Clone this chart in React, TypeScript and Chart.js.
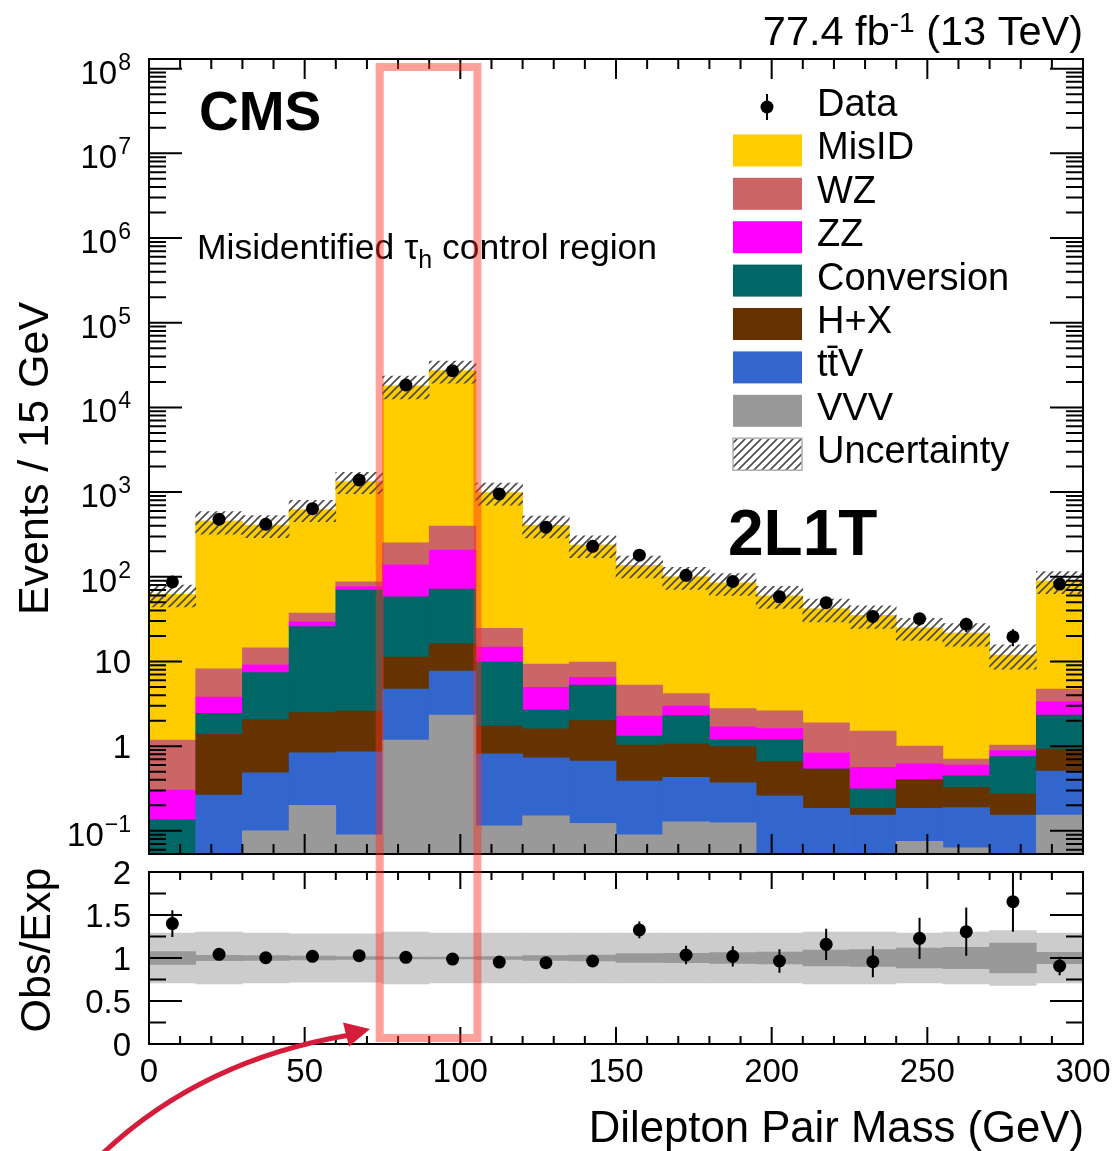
import React, { useEffect, useRef } from 'react';
import { Chart, registerables } from 'chart.js';

Chart.register(...registerables);

const WIDTH = 1115;
const HEIGHT = 1151;
const FONT = "'Liberation Sans', Arial, Helvetica, sans-serif";

// 20 bins of 15 GeV in dilepton pair mass
const BIN_CENTERS = [7.5, 22.5, 37.5, 52.5, 67.5, 82.5, 97.5, 112.5, 127.5, 142.5, 157.5, 172.5, 187.5, 202.5, 217.5, 232.5, 247.5, 262.5, 277.5, 292.5];

// Observed events per bin
const DATA = [87, 478, 417, 637, 1390, 18400, 27100, 949, 385, 229, 180, 104, 88, 58, 49.5, 34, 32, 27.5, 19.6, 82];

// Expected contributions per bin (stacked bottom to top: VVV, ttV, H+X, Conversion, ZZ, WZ, MisID)
const VVV = [0, 0, 0.1, 0.2, 0.09, 1.18, 2.33, 0.115, 0.15, 0.122, 0.09, 0.128, 0.124, 0, 0, 0, 0.075, 0.063, 0, 0.154];
const TTV = [0, 0.265, 0.386, 0.636, 0.77, 3.55, 5.37, 0.695, 0.576, 0.546, 0.298, 0.302, 0.246, 0.26, 0.185, 0.154, 0.11, 0.125, 0.154, 0.355];
const HX = [0, 1.115, 1.554, 1.652, 1.74, 6.57, 8.5, 0.92, 0.874, 1.332, 0.642, 0.63, 0.616, 0.396, 0.353, 0.031, 0.215, 0.136, 0.119, 0.418];
const CONVERSION = [0.135, 1.06, 5.34, 23.3, 67.2, 46.5, 55.6, 8.13, 1.07, 3.28, 0.29, 1.23, 0.214, 0.544, 0, 0.128, 0, 0.121, 0.479, 1.403];
const ZZ = [0.169, 1.37, 1.72, 3.5, 6.6, 80.2, 135.2, 4.94, 2.29, 1.22, 0.95, 0.69, 0.49, 0.41, 0.294, 0.251, 0.217, 0.155, 0.133, 1.02];
const WZ = [0.876, 4.39, 5.4, 8.1, 10.5, 113, 191, 9.9, 4.37, 3.36, 3.01, 1.19, 1.08, 1.01, 1.048, 0.946, 0.383, 0.106, 0.145, 1.38];
const MISID = [60.8, 446, 394, 586, 1248, 17750, 26900, 965, 395, 227, 131, 96, 82, 57, 40, 33.5, 24, 20.9, 10.9, 84.3];

// Relative total uncertainty on the expectation (hatched band / light ratio band)
const REL_UNC = [0.29, 0.3, 0.29, 0.28, 0.28, 0.3, 0.29, 0.29, 0.29, 0.29, 0.29, 0.29, 0.29, 0.29, 0.3, 0.3, 0.29, 0.3, 0.32, 0.29];
// Relative statistical uncertainty on the expectation (dark ratio band)
const MC_STAT = [0.074, 0.031, 0.027, 0.023, 0.017, 0.01, 0.01, 0.017, 0.029, 0.035, 0.05, 0.054, 0.064, 0.068, 0.093, 0.097, 0.116, 0.124, 0.174, 0.066];

// Observed / expected and its uncertainty
const RATIO = [1.4, 1.043, 1.003, 1.02, 1.027, 1.008, 0.988, 0.953, 0.945, 0.965, 1.326, 1.035, 1.02, 0.965, 1.159, 0.957, 1.229, 1.306, 1.655, 0.907];
const RATIO_ERR = [0.155, 0.048, 0.05, 0.041, 0.028, 0.0075, 0.006, 0.031, 0.048, 0.063, 0.097, 0.107, 0.118, 0.137, 0.182, 0.18, 0.24, 0.28, 0.35, 0.107];

// Axis settings
const X_MIN = 0;
const X_MAX = 300;
const X_MAJOR = 50;
const X_MINOR = 10;
const Y_MIN = 0.0533;
const Y_MAX = 1.3e8;
const Y_DECADES = [-1, 0, 1, 2, 3, 4, 5, 6, 7, 8];
const RATIO_MIN = 0;
const RATIO_MAX = 2;
const RATIO_LABELS = ['0', '0.5', '1', '1.5', '2'];
const X_LABELS = ['0', '50', '100', '150', '200', '250', '300'];
const FLOOR = 1e-3;

const STACK = [
  { label: 'VVV', values: VVV, color: '#999999' },
  { label: 'tt\u0304V', values: TTV, color: '#3366CC' },
  { label: 'H+X', values: HX, color: '#663300' },
  { label: 'Conversion', values: CONVERSION, color: '#006666' },
  { label: 'ZZ', values: ZZ, color: '#FF00FF' },
  { label: 'WZ', values: WZ, color: '#CC6666' },
  { label: 'MisID', values: MISID, color: '#FFCC00' },
];

const TOTAL = BIN_CENTERS.map((_, i) => STACK.reduce((s, c) => s + c.values[i], 0));

function makeHatch(): CanvasPattern {
  const s = 8;
  const c = document.createElement('canvas');
  c.width = s;
  c.height = s;
  const g = c.getContext('2d') as CanvasRenderingContext2D;
  g.strokeStyle = '#4a4a4a';
  g.lineWidth = 1.6;
  g.beginPath();
  g.moveTo(0, s);
  g.lineTo(s, 0);
  g.moveTo(-s / 2, s / 2);
  g.lineTo(s / 2, -s / 2);
  g.moveTo(s / 2, s * 1.5);
  g.lineTo(s * 1.5, s / 2);
  g.stroke();
  return g.createPattern(c, 'repeat') as CanvasPattern;
}

function drawXTicks(ctx: CanvasRenderingContext2D, x: any, a: any, majorLen: number, minorLen: number) {
  for (let v = X_MIN; v <= X_MAX; v += X_MINOR) {
    const px = x.getPixelForValue(v);
    const len = v % X_MAJOR === 0 ? majorLen : minorLen;
    ctx.moveTo(px, a.bottom);
    ctx.lineTo(px, a.bottom - len);
    ctx.moveTo(px, a.top);
    ctx.lineTo(px, a.top + len);
  }
}

function App() {
  const mainRef = useRef<HTMLCanvasElement>(null);
  const ratioRef = useRef<HTMLCanvasElement>(null);

  useEffect(() => {
    const hatch = makeHatch();

    // cumulative floating bars for the stacked histogram
    const cum = BIN_CENTERS.map(() => 0);
    const stackSets = STACK.map((s) => ({
      type: 'bar' as const,
      label: s.label,
      data: BIN_CENTERS.map((xc, i) => {
        const lo = cum[i];
        const hi = lo + s.values[i];
        cum[i] = hi;
        return { x: xc, y: [Math.max(lo, FLOOR), Math.max(hi, FLOOR)] };
      }),
      backgroundColor: s.color,
      borderWidth: 0,
      grouped: false,
      barPercentage: 1,
      categoryPercentage: 1,
      clip: 0,
      order: 2,
    }));

    const mainDecor = {
      id: 'mainDecor',
      afterDatasetsDraw(chart: any) {
        const { ctx, chartArea: a } = chart;
        const x = chart.scales.x;
        const y = chart.scales.y;
        ctx.save();
        ctx.strokeStyle = '#000';
        ctx.lineWidth = 2;

        // statistical error bars on data
        ctx.beginPath();
        BIN_CENTERS.forEach((c, i) => {
          const e = Math.sqrt(DATA[i]);
          const px = x.getPixelForValue(c);
          ctx.moveTo(px, y.getPixelForValue(DATA[i] - e));
          ctx.lineTo(px, y.getPixelForValue(DATA[i] + e));
        });
        ctx.stroke();

        // inward ticks on all four sides
        ctx.beginPath();
        drawXTicks(ctx, x, a, 20, 10);
        for (let e = -2; e <= 8; e++) {
          for (let m = 1; m <= 9; m++) {
            const v = m * Math.pow(10, e);
            if (v < Y_MIN || v > Y_MAX) continue;
            const py = y.getPixelForValue(v);
            const len = m === 1 ? 33 : 17;
            ctx.moveTo(a.left, py);
            ctx.lineTo(a.left + len, py);
            ctx.moveTo(a.right, py);
            ctx.lineTo(a.right - len, py);
          }
        }
        ctx.stroke();
        ctx.strokeRect(a.left, a.top, a.right - a.left, a.bottom - a.top);

        // y tick labels with exponents
        ctx.fillStyle = '#000';
        ctx.textBaseline = 'alphabetic';
        ctx.textAlign = 'right';
        const labelRight = a.left - 18;
        Y_DECADES.forEach((d) => {
          const py = y.getPixelForValue(Math.pow(10, d));
          if (d === 0 || d === 1) {
            ctx.font = `33px ${FONT}`;
            ctx.fillText(d === 0 ? '1' : '10', labelRight, py + 11.5);
          } else {
            const exp = d < 0 ? '\u2212' + String(-d) : String(d);
            ctx.font = `23px ${FONT}`;
            const w = ctx.measureText(exp).width;
            ctx.fillText(exp, labelRight, py + 1);
            ctx.font = `33px ${FONT}`;
            ctx.fillText('10', labelRight - w - 1, py + 15);
          }
        });

        // y axis title
        ctx.save();
        ctx.translate(48, (a.top + a.bottom) / 2 + 2);
        ctx.rotate(-Math.PI / 2);
        ctx.textAlign = 'center';
        ctx.font = `43px ${FONT}`;
        ctx.fillText('Events / 15 GeV', 0, 0);
        ctx.restore();

        // luminosity label
        ctx.textAlign = 'left';
        ctx.font = `41.5px ${FONT}`;
        const p3 = ' (13 TeV)';
        const p1 = '77.4 fb';
        const w3 = ctx.measureText(p3).width;
        const w1 = ctx.measureText(p1).width;
        ctx.font = `28px ${FONT}`;
        const sup = '-1';
        const ws = ctx.measureText(sup).width;
        const x3 = a.right - w3;
        ctx.fillText(sup, x3 - ws, 32);
        ctx.font = `41.5px ${FONT}`;
        ctx.fillText(p3, x3, 45);
        ctx.fillText(p1, x3 - ws - w1, 45);

        // CMS and region labels
        ctx.font = `bold 55px ${FONT}`;
        ctx.fillText('CMS', 199, 130);
        ctx.font = `bold 64px ${FONT}`;
        ctx.fillText('2L1T', 728, 555);
        ctx.font = `35.5px ${FONT}`;
        const t1 = 'Misidentified \u03C4';
        ctx.fillText(t1, 197, 259);
        let tx = 197 + ctx.measureText(t1).width;
        ctx.font = `25px ${FONT}`;
        ctx.fillText('h', tx, 268);
        tx += ctx.measureText('h').width;
        ctx.font = `35.5px ${FONT}`;
        ctx.fillText(' control region', tx, 259);

        // legend
        const rows = [
          { label: 'Data', kind: 'data', color: '#000' },
          ...STACK.slice().reverse().map((s) => ({ label: s.label, kind: 'box', color: s.color })),
          { label: 'Uncertainty', kind: 'hatch', color: '' },
        ];
        rows.forEach((r, i) => {
          const base = 116 + i * 43.4;
          if (r.kind === 'data') {
            ctx.beginPath();
            ctx.moveTo(767, base - 22);
            ctx.lineTo(767, base + 4);
            ctx.stroke();
            ctx.beginPath();
            ctx.arc(767, base - 9, 6.5, 0, Math.PI * 2);
            ctx.fill();
          } else if (r.kind === 'box') {
            ctx.fillStyle = r.color;
            ctx.fillRect(733, base - 25, 69, 32);
          } else {
            ctx.fillStyle = hatch;
            ctx.fillRect(733, base - 25, 69, 32);
            ctx.save();
            ctx.strokeStyle = '#b0b0b0';
            ctx.lineWidth = 1.5;
            ctx.strokeRect(733, base - 25, 69, 32);
            ctx.restore();
          }
          ctx.fillStyle = '#000';
          ctx.font = `38px ${FONT}`;
          ctx.fillText(r.label, 817, base);
        });

        ctx.restore();
      },
    };

    const main = new Chart(mainRef.current as HTMLCanvasElement, {
      type: 'bar',
      data: {
        datasets: [
          {
            type: 'line',
            label: 'Data',
            data: BIN_CENTERS.map((xc, i) => ({ x: xc, y: DATA[i] })),
            showLine: false,
            pointRadius: 6.5,
            pointBackgroundColor: '#000',
            pointBorderWidth: 0,
            order: 0,
          } as any,
          {
            type: 'bar',
            label: 'Uncertainty',
            data: BIN_CENTERS.map((xc, i) => ({ x: xc, y: [TOTAL[i] * (1 - REL_UNC[i]), TOTAL[i] * (1 + REL_UNC[i])] })),
            backgroundColor: hatch,
            borderWidth: 0,
            grouped: false,
            barPercentage: 1,
            categoryPercentage: 1,
            clip: 0,
            order: 1,
          } as any,
          ...(stackSets as any[]),
        ],
      },
      options: {
        responsive: false,
        animation: false,
        events: [],
        layout: { padding: { left: 149, right: WIDTH - 1083, top: 59, bottom: HEIGHT - 854 } },
        scales: {
          x: { type: 'linear', min: X_MIN, max: X_MAX, offset: false, display: false, ticks: { stepSize: X_MAJOR } },
          y: { type: 'logarithmic', min: Y_MIN, max: Y_MAX, display: false },
        },
        plugins: { legend: { display: false }, tooltip: { enabled: false } },
      } as any,
      plugins: [mainDecor],
    });

    const ratioDecor = {
      id: 'ratioDecor',
      afterDatasetsDraw(chart: any) {
        const { ctx, chartArea: a } = chart;
        const x = chart.scales.x;
        const y = chart.scales.y;
        ctx.save();
        ctx.strokeStyle = '#000';
        ctx.fillStyle = '#000';
        ctx.lineWidth = 2;

        // error bars on the ratio
        ctx.save();
        ctx.beginPath();
        ctx.rect(a.left, a.top, a.right - a.left, a.bottom - a.top);
        ctx.clip();
        ctx.beginPath();
        BIN_CENTERS.forEach((c, i) => {
          const px = x.getPixelForValue(c);
          ctx.moveTo(px, y.getPixelForValue(RATIO[i] - RATIO_ERR[i]));
          ctx.lineTo(px, y.getPixelForValue(RATIO[i] + RATIO_ERR[i]));
        });
        ctx.stroke();
        ctx.restore();

        // ticks
        ctx.beginPath();
        drawXTicks(ctx, x, a, 17, 8);
        for (let v = RATIO_MIN; v <= RATIO_MAX + 1e-9; v += 0.25) {
          const py = y.getPixelForValue(v);
          const len = Math.abs(v * 2 - Math.round(v * 2)) < 1e-6 ? 33 : 17;
          ctx.moveTo(a.left, py);
          ctx.lineTo(a.left + len, py);
          ctx.moveTo(a.right, py);
          ctx.lineTo(a.right - len, py);
        }
        ctx.stroke();
        ctx.strokeRect(a.left, a.top, a.right - a.left, a.bottom - a.top);

        // tick labels
        ctx.font = `33px ${FONT}`;
        ctx.textBaseline = 'alphabetic';
        ctx.textAlign = 'right';
        RATIO_LABELS.forEach((t) => {
          ctx.fillText(t, a.left - 18, y.getPixelForValue(parseFloat(t)) + 12);
        });
        ctx.textAlign = 'center';
        X_LABELS.forEach((t) => {
          ctx.fillText(t, x.getPixelForValue(parseFloat(t)), a.bottom + 38);
        });

        // axis titles
        ctx.font = `43.7px ${FONT}`;
        ctx.textAlign = 'right';
        ctx.fillText('Dilepton Pair Mass (GeV)', a.right + 1, 1142);
        ctx.font = `43px ${FONT}`;
        ctx.save();
        ctx.translate(50, (a.top + a.bottom) / 2 - 8);
        ctx.rotate(-Math.PI / 2);
        ctx.textAlign = 'center';
        ctx.fillText('Obs/Exp', 0, 0);
        ctx.restore();
        ctx.restore();
      },
      afterDraw(chart: any) {
        const { ctx } = chart;
        const x = chart.scales.x;
        const y = chart.scales.y;
        ctx.save();
        // highlighted Z-peak window spanning both panels
        const xl = x.getPixelForValue(74.1);
        const xr = x.getPixelForValue(105.5);
        const yb = y.getPixelForValue(0.07);
        const yt = 67;
        ctx.strokeStyle = 'rgba(255, 45, 30, 0.45)';
        ctx.lineWidth = 8;
        ctx.lineJoin = 'miter';
        ctx.strokeRect(xl, yt, xr - xl, yb - yt);

        // pointer arrow
        ctx.strokeStyle = '#D51C3A';
        ctx.fillStyle = '#D51C3A';
        ctx.lineWidth = 5;
        ctx.beginPath();
        ctx.moveTo(100, 1156);
        ctx.quadraticCurveTo(200, 1060, 350, 1035);
        ctx.stroke();
        ctx.beginPath();
        ctx.moveTo(370, 1029);
        ctx.lineTo(343, 1022.5);
        ctx.lineTo(349, 1046.5);
        ctx.closePath();
        ctx.fill();
        ctx.restore();
      },
    };

    const ratio = new Chart(ratioRef.current as HTMLCanvasElement, {
      type: 'bar',
      data: {
        datasets: [
          {
            type: 'line',
            label: 'Obs/Exp',
            data: BIN_CENTERS.map((xc, i) => ({ x: xc, y: RATIO[i] })),
            showLine: false,
            pointRadius: 6.5,
            pointBackgroundColor: '#000',
            pointBorderWidth: 0,
            order: 0,
          } as any,
          {
            type: 'line',
            label: 'Unity',
            data: [{ x: X_MIN, y: 1 }, { x: X_MAX, y: 1 }],
            borderColor: '#999999',
            borderWidth: 1.5,
            pointRadius: 0,
            order: 1,
          } as any,
          {
            type: 'bar',
            label: 'Stat. unc.',
            data: BIN_CENTERS.map((xc, i) => ({ x: xc, y: [1 - MC_STAT[i], 1 + MC_STAT[i]] })),
            backgroundColor: '#999999',
            borderWidth: 0,
            grouped: false,
            barPercentage: 1,
            categoryPercentage: 1,
            clip: 0,
            order: 2,
          } as any,
          {
            type: 'bar',
            label: 'Total unc.',
            data: BIN_CENTERS.map((xc, i) => ({ x: xc, y: [1 - REL_UNC[i], 1 + REL_UNC[i]] })),
            backgroundColor: '#cccccc',
            borderWidth: 0,
            grouped: false,
            barPercentage: 1,
            categoryPercentage: 1,
            clip: 0,
            order: 3,
          } as any,
        ],
      },
      options: {
        responsive: false,
        animation: false,
        events: [],
        layout: { padding: { left: 149, right: WIDTH - 1083, top: 872, bottom: HEIGHT - 1044 } },
        scales: {
          x: { type: 'linear', min: X_MIN, max: X_MAX, offset: false, display: false, ticks: { stepSize: X_MAJOR } },
          y: { type: 'linear', min: RATIO_MIN, max: RATIO_MAX, display: false },
        },
        plugins: { legend: { display: false }, tooltip: { enabled: false } },
      } as any,
      plugins: [ratioDecor],
    });

    return () => {
      main.destroy();
      ratio.destroy();
    };
  }, []);

  const canvasStyle: React.CSSProperties = { position: 'absolute', left: 0, top: 0, width: WIDTH, height: HEIGHT };
  return (
    <div style={{ position: 'absolute', left: 0, top: 0, width: WIDTH, height: HEIGHT, background: '#fff', overflow: 'hidden' }}>
      <canvas ref={mainRef} width={WIDTH} height={HEIGHT} style={canvasStyle} />
      <canvas ref={ratioRef} width={WIDTH} height={HEIGHT} style={canvasStyle} />
    </div>
  );
}

export default App;
